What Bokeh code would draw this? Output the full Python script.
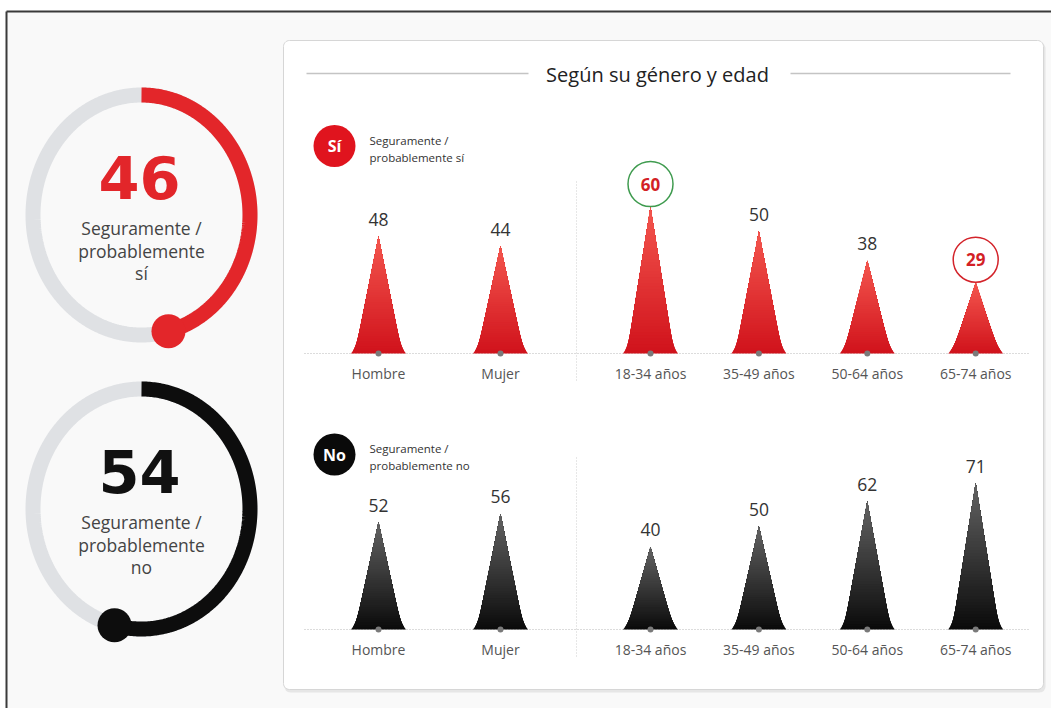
import numpy as np
from bokeh.plotting import figure
from bokeh.models import Range1d
from bokeh.core.properties import value
from bokeh.embed import file_html
from bokeh.resources import INLINE

# ---- data -------------------------------------------------------------
genero = ["Hombre", "Mujer"]
edades = ["18-34 años", "35-49 años", "50-64 años", "65-74 años"]

si_genero = [48, 44]
si_edad = [60, 50, 38, 29]
no_genero = [52, 56]
no_edad = [40, 50, 62, 71]

total_si = 46
total_no = 54

titulo = "Según su género y edad"
etiqueta_si = ["Seguramente /", "probablemente", "sí"]
etiqueta_no = ["Seguramente /", "probablemente", "no"]
leyenda_si = ["Seguramente /", "probablemente sí"]
leyenda_no = ["Seguramente /", "probablemente no"]

# ---- page canvas (one unit = one pixel, y grows downwards) -------------
W, H = 1051, 708
FONT = value("Open Sans")

p = figure(width=W, height=H, x_range=Range1d(0, W), y_range=Range1d(H, 0),
           output_backend="svg", toolbar_location=None, min_border=0,
           x_axis_location=None, y_axis_location=None)
p.grid.visible = False
p.outline_line_color = None
p.background_fill_color = "white"
p.border_fill_color = "white"

# outer frame
p.quad(left=[6], right=[W + 10], top=[11], bottom=[H + 10],
       fill_color="#f9f9f9", line_color=None)
p.line([6, 6], [11, H + 10], line_color="#3a3a3a", line_width=2)
p.line([6, W + 10], [11, 11], line_color="#3a3a3a", line_width=2)


def rounded_rect(x0, y0, x1, y1, r, n=8):
    xs, ys = [], []
    corners = [(x1 - r, y0 + r, -np.pi / 2, 0), (x1 - r, y1 - r, 0, np.pi / 2),
               (x0 + r, y1 - r, np.pi / 2, np.pi), (x0 + r, y0 + r, np.pi, 1.5 * np.pi)]
    for cx, cy, a0, a1 in corners:
        a = np.linspace(a0, a1, n)
        xs.extend(cx + r * np.cos(a))
        ys.extend(cy + r * np.sin(a))
    return xs, ys


# white panel with a soft shadow
sx, sy = rounded_rect(284, 42, 1045, 692, 6)
p.patch(sx, sy, fill_color="#e6e6e6", line_color=None)
px, py = rounded_rect(283, 40, 1043, 689, 6)
p.patch(px, py, fill_color="#ffffff", line_color="#d6d6d6", line_width=1)

# title with side rules
p.text(x=[657], y=[74], text=[titulo], text_font=FONT, text_font_size="20px",
       text_align="center", text_baseline="middle", text_color="#222222")
p.segment(x0=[306, 790], y0=[73, 73], x1=[528, 1010], y1=[73, 73],
          line_color="#c4c4c4", line_width=1.5)

# ---- donut gauges -------------------------------------------------------
RX, RY, RING = 108.5, 120.0, 15


def donut(cx, cy, pct, color, lines, num_color):
    t = np.linspace(0, 2 * np.pi, 361)
    p.line(cx + RX * np.sin(t), cy - RY * np.cos(t), line_color="#dfe1e4",
           line_width=RING)
    a = np.linspace(0, pct / 100 * 2 * np.pi, 240)
    ax, ay = cx + RX * np.sin(a), cy - RY * np.cos(a)
    p.line(ax, ay, line_color=color, line_width=RING, line_cap="butt")
    p.scatter([ax[-1]], [ay[-1]], size=34, marker="circle",
              fill_color=color, line_color=None)
    p.text(x=[cx - 2], y=[cy - 38], text=[str(pct)], text_font=value("DejaVu Sans"),
           text_font_style="bold", text_font_size="59px", text_align="center",
           text_baseline="middle", text_color=num_color)
    p.text(x=[cx] * 3, y=[cy + 13, cy + 35.5, cy + 57.5], text=lines,
           text_font=FONT, text_font_size="17.5px", text_align="center",
           text_baseline="middle", text_color="#444444")


donut(141, 214.5, total_si, "#e3262a", etiqueta_si, "#e2262a")
donut(141, 508.5, total_no, "#0d0d0d", etiqueta_no, "#111111")

# ---- peak charts --------------------------------------------------------
X_GEN = [378 + 122 * i for i in range(len(genero))]
X_AGE = [650 + 108.4 * i for i in range(len(edades))]
PEAK_PX = 146.5
HALF_W, FLARE = 23.5, 4.0


def hex_to_rgb(h):
    return np.array([int(h[i:i + 2], 16) for i in (1, 3, 5)], dtype=float)


def mix(c_top, c_bot, f):
    c = hex_to_rgb(c_bot) * (1 - f) + hex_to_rgb(c_top) * f
    return "#%02x%02x%02x" % tuple(int(round(v)) for v in c)


def half_width(h, height_px):
    return HALF_W * (1 - h) + FLARE * np.exp(-h * height_px / 6.0)


def peak_outline(xc, v, k, h_from, m=40):
    """Closed outline of a peak from height fraction h_from up to its tip."""
    hs = np.linspace(h_from, 1, m)
    hw = half_width(hs, v * k)
    xs = np.concatenate([xc - hw, (xc + hw)[::-1]])
    ys = np.concatenate([v * hs, (v * hs)[::-1]])
    return list(xs), list(ys)


def chart(name, base_px, vals_gen, vals_age, c_top, c_bot, badge_color,
          badge_text, legend, badge_y, highlight):
    vals = list(vals_gen) + list(vals_age)
    cats = genero + edades
    xs_c = X_GEN + X_AGE
    k = PEAK_PX / max(vals)
    p.extra_y_ranges[name] = Range1d(start=(base_px - H) / k, end=base_px / k)

    # separator and baseline
    p.line([576, 576], [base_px + 27, base_px - 173], line_color="#cfcfcf",
           line_width=1, line_dash="1 2")
    p.line([304, 1029], [base_px, base_px], line_color="#b8b8b8",
           line_width=1, line_dash="1 2")

    # gradient-filled peaks: nested outlines, each one starting a bit higher
    n = 48
    pxs, pys, cols = [], [], []
    for xc, v in zip(xs_c, vals):
        for i in range(n):
            h0 = i / n
            ox, oy = peak_outline(xc, v, k, h0)
            pxs.append(ox)
            pys.append(oy)
            cols.append(mix(c_top, c_bot, h0 + 0.5 / n))
    p.patches(pxs, pys, fill_color=cols, line_color=None, y_range_name=name)

    # baseline markers and category labels
    p.scatter(xs_c, [0] * len(xs_c), size=6, marker="circle",
              fill_color="#7a7a7a", line_color=None, y_range_name=name)
    p.text(x=xs_c, y=[0] * len(xs_c), text=cats, y_offset=20, text_font=FONT,
           text_font_size="14px", text_align="center", text_baseline="middle",
           text_color="#555555", y_range_name=name)

    # value labels
    plain = [i for i in range(len(vals)) if i not in highlight]
    p.text(x=[xs_c[i] for i in plain], y=[vals[i] for i in plain],
           text=[str(vals[i]) for i in plain], y_offset=-17, text_font=FONT,
           text_font_size="17.5px", text_align="center", text_baseline="middle",
           text_color="#333333", y_range_name=name)
    for i, ring_color in highlight.items():
        yc = vals[i] + 23 / k
        p.scatter([xs_c[i]], [yc], size=45, marker="circle", fill_color="white",
                  line_color=ring_color, line_width=1.5, y_range_name=name)
        p.text(x=[xs_c[i]], y=[yc], text=[str(vals[i])], text_font=FONT,
               text_font_style="bold", text_font_size="17px", text_align="center",
               text_baseline="middle", text_color="#d31f26", y_range_name=name)

    # badge and legend
    p.scatter([334], [badge_y], size=42, marker="circle", fill_color=badge_color,
              line_color=None)
    p.text(x=[334], y=[badge_y], text=[badge_text], text_font=FONT,
           text_font_style="bold", text_font_size="16px", text_align="center",
           text_baseline="middle", text_color="white")
    p.text(x=[369, 369], y=[badge_y - 6, badge_y + 11], text=legend, text_font=FONT,
           text_font_size="11.5px", text_align="left", text_baseline="middle",
           text_color="#333333")


n_gen = len(genero)
imax = n_gen + int(np.argmax(si_edad))
imin = n_gen + int(np.argmin(si_edad))

chart("si", 353, si_genero, si_edad, "#f4574f", "#d0121b", "#e0141e", "Sí",
      leyenda_si, 145.5, {imax: "#3f9b4f", imin: "#d3232a"})
chart("no", 629, no_genero, no_edad, "#646464", "#0a0a0a", "#0a0a0a", "No",
      leyenda_no, 454, {})

open("out.html", "w").write(file_html(p, INLINE))
